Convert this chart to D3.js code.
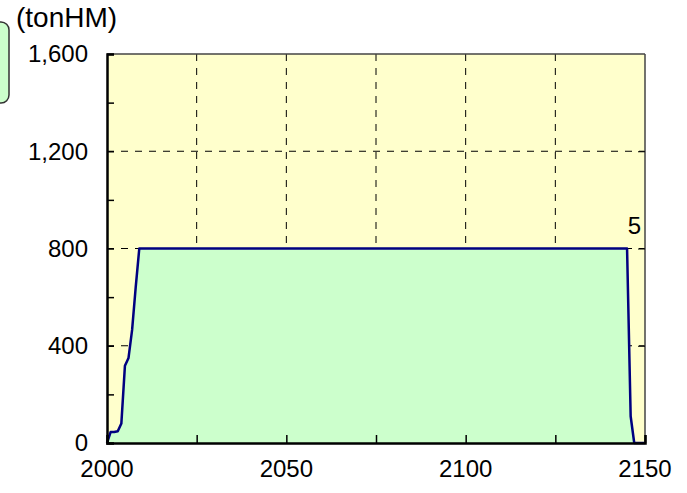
<!DOCTYPE html>
<html><head><meta charset="utf-8">
<script src="https://cdn.jsdelivr.net/npm/d3@7"></script>
<style>body{margin:0;background:#fff}svg{display:block}text{font-family:"Liberation Sans",Arial,sans-serif}</style>
</head><body><svg id="c" width="687" height="493"></svg>
<script>
const years = [2000,2001,2002,2003,2004,2005,2006,2007,2008,2009,2145,2146,2147,2150];
const values = [0,45,45,48,80,318,350,465,640,800,800,110,0,0];
const yTicks = [0,400,800,1200,1600];
const xTicks = [2000,2050,2100,2150];
const unitLabel = "(tonHM)";
const endLabel = "5";

const svg = d3.select("#c");
const L=107,R=645,T=54,B=443;
const x = d3.scaleLinear().domain([2000,2150]).range([L,R]);
const y = d3.scaleLinear().domain([0,1600]).range([B,T]);
const data = years.map((d,i)=>({x:d,y:values[i]}));

// legend box (partially off-canvas)
svg.append("rect").attr("x",-30).attr("y",22).attr("width",39).attr("height",81)
  .attr("rx",8).attr("fill","#ccffcc").attr("stroke","#333").attr("stroke-width",1.5);

svg.append("rect").attr("x",L).attr("y",T).attr("width",R-L).attr("height",B-T).attr("fill","#ffffcc");

// grid
const g = svg.append("g");
g.selectAll(".hg").data([400,800,1200]).enter().append("line")
  .attr("x1",L).attr("x2",R).attr("y1",d=>y(d)).attr("y2",d=>y(d))
  .attr("stroke","#000").attr("stroke-width",1).attr("stroke-dasharray","7,7");
g.selectAll(".vg").data([2025,2050,2075,2100,2125]).enter().append("line")
  .attr("x1",d=>x(d)).attr("x2",d=>x(d)).attr("y1",T).attr("y2",B)
  .attr("stroke","#000").attr("stroke-width",1).attr("stroke-dasharray","7,7");

const area = d3.area().x(d=>x(d.x)).y0(B).y1(d=>y(d.y));
const line = d3.line().x(d=>x(d.x)).y(d=>y(d.y));
svg.append("path").datum(data).attr("d",area).attr("fill","#ccffcc");
svg.append("path").datum(data).attr("d",line).attr("fill","none").attr("stroke","#000080").attr("stroke-width",2.5).attr("stroke-linejoin","round");

// borders
svg.append("line").attr("x1",L).attr("x2",R).attr("y1",T).attr("y2",T).attr("stroke","#444").attr("stroke-width",1.5);
svg.append("line").attr("x1",R).attr("x2",R).attr("y1",T).attr("y2",B).attr("stroke","#444").attr("stroke-width",1.5);

// axes
const yAxis = d3.axisLeft(y).tickValues(d3.range(0,1601,200)).tickSize(-7).tickFormat("");
const ya = svg.append("g").attr("transform",`translate(${L},0)`).call(yAxis);
ya.select(".domain").attr("stroke","#000").attr("stroke-width",2.5);
ya.selectAll(".tick line").attr("stroke","#000").attr("stroke-width",1.5);
const yr = d3.axisRight(y).tickValues([400,800,1200]).tickSize(-7).tickFormat("");
const yra = svg.append("g").attr("transform",`translate(${R},0)`).call(yr);
yra.select(".domain").remove();
yra.selectAll(".tick line").attr("stroke","#000").attr("stroke-width",1);

const xAxis = d3.axisBottom(x).tickValues(d3.range(2000,2151,25)).tickSize(-8).tickFormat("");
const xa = svg.append("g").attr("transform",`translate(0,${B})`).call(xAxis);
xa.select(".domain").attr("stroke","#000").attr("stroke-width",2.5);
xa.selectAll(".tick line").attr("stroke","#000").attr("stroke-width",1.5);

// labels
svg.selectAll(".yl").data(yTicks).enter().append("text")
  .attr("x",88).attr("y",d=>y(d)).attr("dy","0.35em").attr("text-anchor","end")
  .attr("font-size",24).text(d=>d3.format(",")(d));
svg.selectAll(".xl").data(xTicks).enter().append("text")
  .attr("x",d=>x(d)).attr("y",477).attr("text-anchor","middle")
  .attr("font-size",24).text(d=>d);
svg.append("text").attr("x",16).attr("y",27).attr("font-size",28).text(unitLabel);
svg.append("text").attr("x",641).attr("y",234).attr("text-anchor","end").attr("font-size",24).text(endLabel);
</script></body></html>
